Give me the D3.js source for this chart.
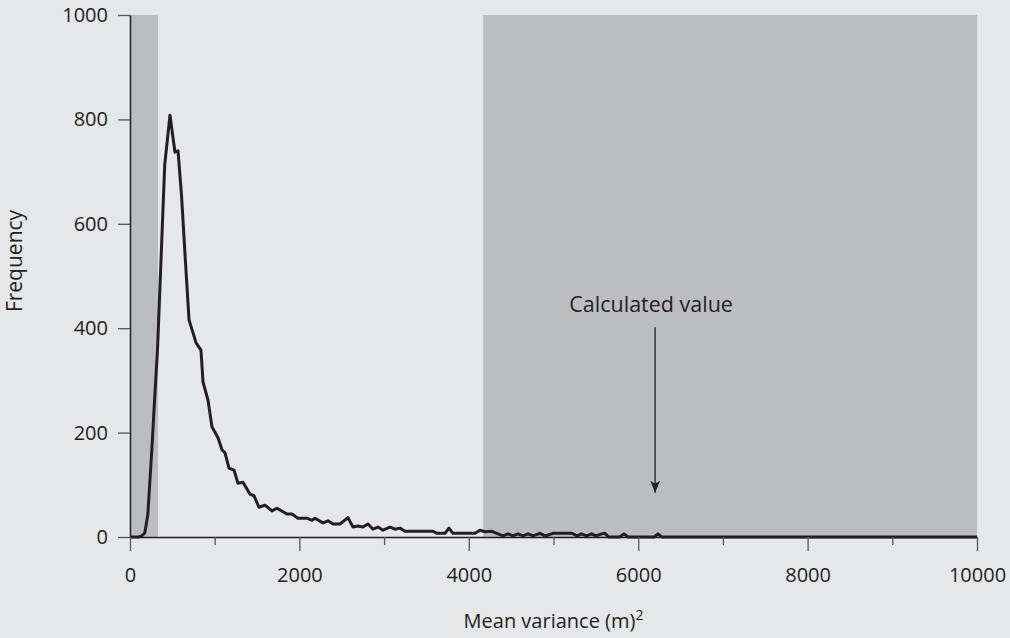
<!DOCTYPE html>
<html lang="en">
<head>
<meta charset="UTF-8">
<title>Mean variance frequency</title>
<script src="https://d3js.org/d3.v7.min.js"></script>
<style>
  html, body { margin: 0; padding: 0; background: #e6e7e8; }
  svg { display: block; font-family: "Open Sans", sans-serif; }
</style>
</head>
<body>
<div id="chart"></div>
<script>
// values
var variance = [0, 50, 100, 140, 175, 210, 255, 290, 325, 410, 472, 531, 567, 610, 650, 697, 780, 838, 862,
  921, 968, 1039, 1086, 1122, 1169, 1228, 1275, 1334, 1417, 1464, 1523, 1594, 1676, 1735, 1853, 1912, 1983,
  2090, 2149, 2184, 2279, 2338, 2397, 2479, 2574, 2633, 2692, 2751, 2810, 2869, 2928, 2987, 3070, 3130, 3188,
  3247, 3577, 3625, 3719, 3766, 3813, 4073, 4132, 4191, 4274, 4330, 4404, 4463, 4522, 4581, 4640, 4700, 4760,
  4840, 4900, 4994, 5218, 5280, 5330, 5390, 5450, 5500, 5570, 5608, 5650, 5780, 5832, 5880, 6190, 6234, 6280, 10000];
var frequency = [0, 0, 0, 2, 8, 42, 160, 262, 360, 713, 808, 737, 740, 650, 540, 416, 372, 358, 297,
  262, 211, 190, 167, 161, 132, 128, 103, 105, 82, 79, 57, 61, 50, 55, 44, 44, 36,
  36, 32, 36, 27, 31, 25, 25, 37, 19, 21, 19, 25, 15, 19, 13, 19, 15, 17,
  11, 11, 7, 7, 17, 7, 7, 13, 10, 11, 7, 2, 6, 2, 6, 2, 6, 2,
  7, 2, 7, 7, 2, 6, 2, 6, 2, 6, 7, 0, 0, 6, 0, 0, 6, 0, 0];

var shadedBands = [[0, 330], [4170, 10000]];
var xTicks = [0, 2000, 4000, 6000, 8000, 10000];
var xMinorTicks = [1000, 3000, 5000, 7000, 9000];
var yTicks = [0, 200, 400, 600, 800, 1000];

var calcValue = 6200;      // arrow position
var arrowFrom = 402, arrowTo = 85;
var calcLabel = "Calculated value";
var calcLabelY = 431;

var W = 1010, H = 638;
var margin = { top: 15, right: 33, bottom: 101, left: 130 };
var width = W - margin.left - margin.right;
var height = H - margin.top - margin.bottom;

var ink = "#231f20";

var svg = d3.select("#chart").append("svg")
  .attr("width", W)
  .attr("height", H);

svg.append("defs").append("marker")
  .attr("id", "arrowhead")
  .attr("viewBox", "0 0 10 12")
  .attr("refX", 5).attr("refY", 12)
  .attr("markerWidth", 10).attr("markerHeight", 12)
  .attr("markerUnits", "userSpaceOnUse")
  .attr("orient", "0")
  .append("path")
  .attr("d", "M0,0 L5,3 L10,0 L5,12 Z")
  .attr("fill", ink);

var g = svg.append("g")
  .attr("transform", "translate(" + margin.left + "," + margin.top + ")");

var x = d3.scaleLinear().domain([0, 10000]).range([0, width]);
var y = d3.scaleLinear().domain([0, 1000]).range([height, 0]);

// shaded regions
g.selectAll("rect.band")
  .data(shadedBands)
  .enter().append("rect")
  .attr("class", "band")
  .attr("x", d => x(d[0]))
  .attr("y", y(1000))
  .attr("width", d => x(d[1]) - x(d[0]))
  .attr("height", y(0) - y(1000))
  .attr("fill", "#bcbdc0");

// annotation
g.append("text")
  .attr("x", x(calcValue) - 4)
  .attr("y", y(calcLabelY))
  .attr("text-anchor", "middle")
  .attr("font-size", 21.5)
  .attr("fill", ink)
  .text(calcLabel);

g.append("line")
  .attr("x1", x(calcValue)).attr("x2", x(calcValue))
  .attr("y1", y(arrowFrom)).attr("y2", y(arrowTo))
  .attr("stroke", ink)
  .attr("stroke-width", 1.3)
  .attr("marker-end", "url(#arrowhead)");

// line
var pts = variance.map((v, i) => [v, frequency[i]]);
var line = d3.line()
  .x(d => x(d[0]))
  .y(d => y(d[1]));

g.append("path")
  .datum(pts)
  .attr("fill", "none")
  .attr("stroke", ink)
  .attr("stroke-width", 3)
  .attr("stroke-linejoin", "round")
  .attr("d", line);

// axes
var fmt = d3.format("d");
g.append("g")
  .call(d3.axisLeft(y).tickValues(yTicks).tickFormat(fmt).tickSize(12).tickSizeOuter(0).tickPadding(10));

g.append("g")
  .attr("transform", "translate(0," + height + ")")
  .call(d3.axisBottom(x).tickValues(xTicks).tickFormat(fmt).tickSize(14).tickSizeOuter(0).tickPadding(17));

g.append("g")
  .attr("transform", "translate(0," + height + ")")
  .call(d3.axisBottom(x).tickValues(xMinorTicks).tickSize(8).tickFormat(""))
  .select(".domain").remove();

g.selectAll(".tick line").attr("stroke", "#555").attr("stroke-width", 1.3);
g.selectAll(".domain").attr("stroke", ink).attr("stroke-width", 1.5);
g.selectAll(".tick text")
  .attr("font-family", "'Open Sans', sans-serif")
  .attr("font-size", 20)
  .attr("fill", ink);

// axis titles
var xt = svg.append("text")
  .attr("x", margin.left + width / 2)
  .attr("y", 628)
  .attr("text-anchor", "middle")
  .attr("font-size", 20)
  .attr("fill", ink);
xt.append("tspan").text("Mean variance (m)");
xt.append("tspan").attr("dy", -8).attr("font-size", 14).text("2");

svg.append("text")
  .attr("transform", "translate(22," + (margin.top + height / 2 - 15) + ") rotate(-90)")
  .attr("text-anchor", "middle")
  .attr("font-size", 21)
  .attr("fill", ink)
  .text("Frequency");
</script>
</body>
</html>
